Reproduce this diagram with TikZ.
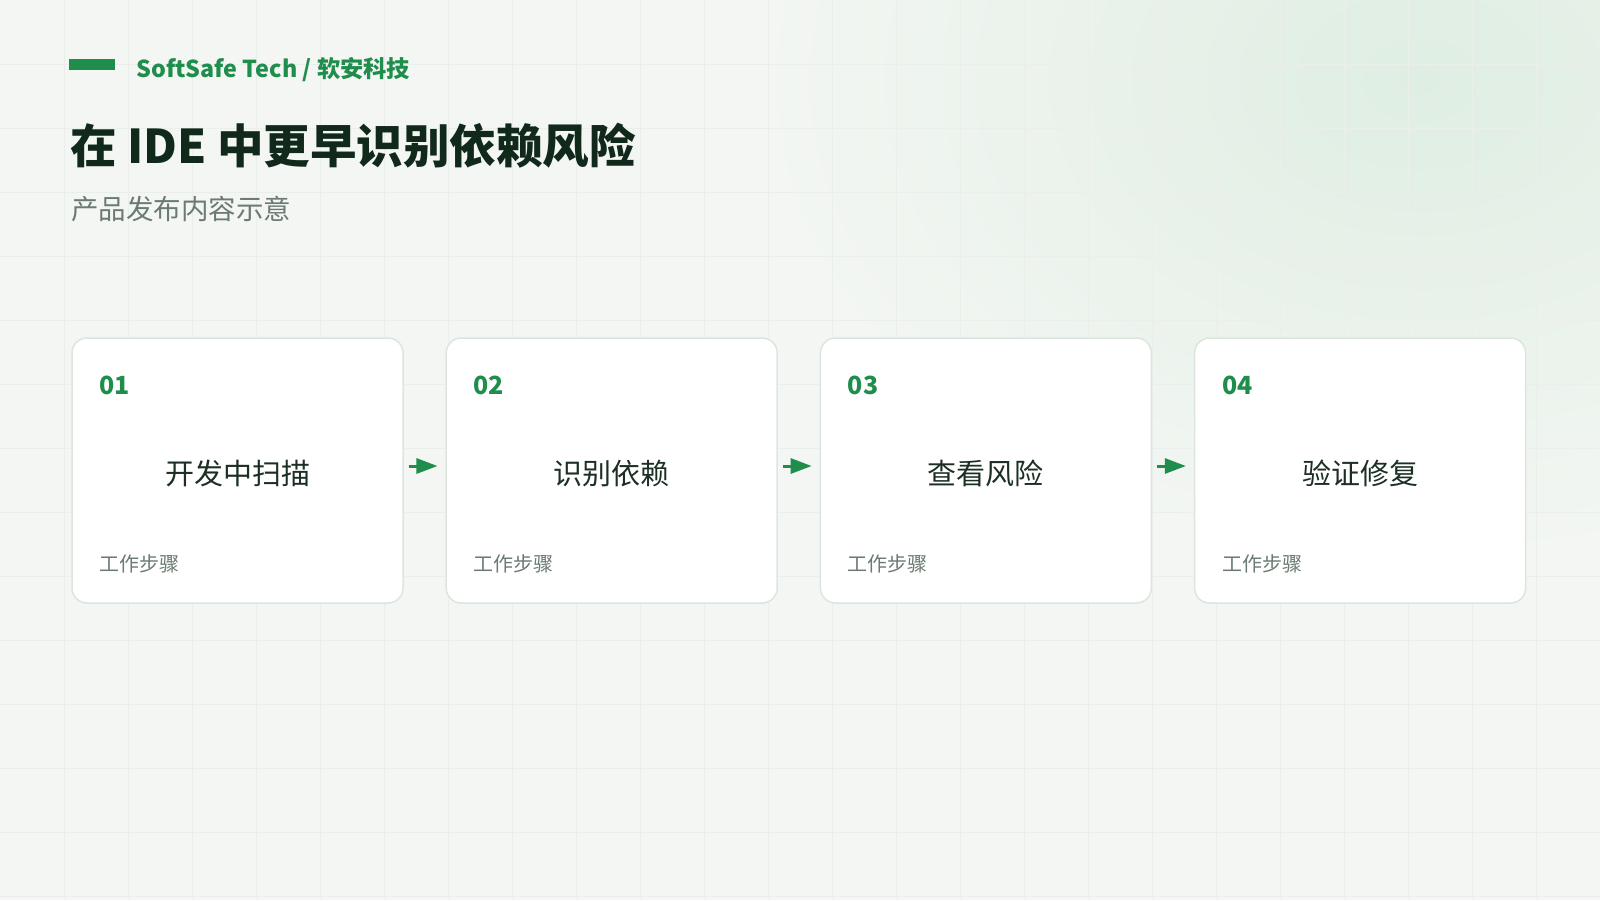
\documentclass[tikz,border=0pt]{standalone}
\usepackage{fontspec}
\setmainfont{Noto Sans CJK SC}
\usetikzlibrary{positioning, arrows.meta}
\definecolor{pagebg}{HTML}{F3F6F3}
\definecolor{gridc}{HTML}{EAEFEB}
\definecolor{glow}{HTML}{DFEEE2}
\definecolor{cardline}{HTML}{DCE5DE}
\definecolor{brandgreen}{HTML}{1F8D4C}
\definecolor{titleink}{HTML}{11291B}
\definecolor{mutedink}{HTML}{6B7B71}
\definecolor{stepink}{HTML}{1C2F23}
\tikzset{card/.style = {draw=cardline, line width=1.5pt, fill=white, rounded corners=15pt, minimum width=331pt, minimum height=265pt, inner sep=0pt}}
\tikzset{steptitle/.style = {inner sep=0pt, text=stepink, font=\fontsize{29}{34}\selectfont}}
\tikzset{stepnum/.style = {anchor=west, inner sep=0pt, text=brandgreen, font=\fontsize{25}{30}\selectfont\bfseries}}
\tikzset{stepnote/.style = {anchor=west, inner sep=0pt, text=mutedink, font=\fontsize{20}{24}\selectfont}}
\tikzset{flow/.style = {-{Triangle[length=21pt, width=15pt]}, line width=3pt, brandgreen}}
\tikzset{gridline/.style = {gridc, line width=1pt}}

\begin{document}
\begin{tikzpicture}[x=1pt, y=-1pt, node distance=41.7pt]
  % page and background
  \useasboundingbox (0,0) rectangle (1600,900);
  \begin{scope}
    \clip (0,0) rectangle (1600,900);
    \fill[pagebg] (0,0) rectangle (1600,900);
    \shade[inner color=glow, outer color=pagebg] (1420,80) ellipse (660pt and 480pt);
    \foreach \gx in {64,128,...,1600} \draw[gridline] (\gx,0) -- (\gx,900);
    \foreach \gy in {64,128,...,896} \draw[gridline] (0,\gy) -- (1600,\gy);
  \end{scope}

  % header
  \node [fill=brandgreen, minimum width=46pt, minimum height=11pt, inner sep=0pt] (bar) at (92,64.5) {};
  \node [right=21pt of bar, yshift=-5.5pt, inner sep=0pt, text=brandgreen, font=\fontsize{23.3}{28}\selectfont\bfseries] (brand) {SoftSafe Tech / 软安科技};
  \node [anchor=west, inner sep=0pt, text=titleink, font=\fontsize{46.5}{54}\selectfont\bfseries] (title) at (70,146) {在 IDE 中更早识别依赖风险};
  \node [anchor=west, inner sep=0pt, text=mutedink, font=\fontsize{27.5}{32}\selectfont] (subtitle) at (71,209) {产品发布内容示意};

  % steps
  \node [card] (scan) at (237.5,470.5) {};
  \node [card, right=of scan] (deps) {};
  \node [card, right=of deps] (risk) {};
  \node [card, right=of risk] (fix) {};

  \node [steptitle] (t1) at ([yshift=-3pt]scan.center) {开发中扫描};
  \node [steptitle] (t2) at ([yshift=-3pt]deps.center) {识别依赖};
  \node [steptitle] (t3) at ([yshift=-3pt]risk.center) {查看风险};
  \node [steptitle] (t4) at ([yshift=-3pt]fix.center) {验证修复};

  \node [stepnum] (n1) at ([xshift=28pt, yshift=-48pt]scan.north west) {01};
  \node [stepnum] (n2) at ([xshift=28pt, yshift=-48pt]deps.north west) {02};
  \node [stepnum] (n3) at ([xshift=28pt, yshift=-48pt]risk.north west) {03};
  \node [stepnum] (n4) at ([xshift=28pt, yshift=-48pt]fix.north west) {04};

  \node [stepnote] (w1) at ([xshift=28pt, yshift=40pt]scan.south west) {工作步骤};
  \node [stepnote] (w2) at ([xshift=28pt, yshift=40pt]deps.south west) {工作步骤};
  \node [stepnote] (w3) at ([xshift=28pt, yshift=40pt]risk.south west) {工作步骤};
  \node [stepnote] (w4) at ([xshift=28pt, yshift=40pt]fix.south west) {工作步骤};

  \path[flow] ([xshift=5pt, yshift=4.5pt]scan.east) edge ([xshift=-8pt, yshift=4.5pt]deps.west);
  \path[flow] ([xshift=5pt, yshift=4.5pt]deps.east) edge ([xshift=-8pt, yshift=4.5pt]risk.west);
  \path[flow] ([xshift=5pt, yshift=4.5pt]risk.east) edge ([xshift=-8pt, yshift=4.5pt]fix.west);
\end{tikzpicture}
\end{document}
